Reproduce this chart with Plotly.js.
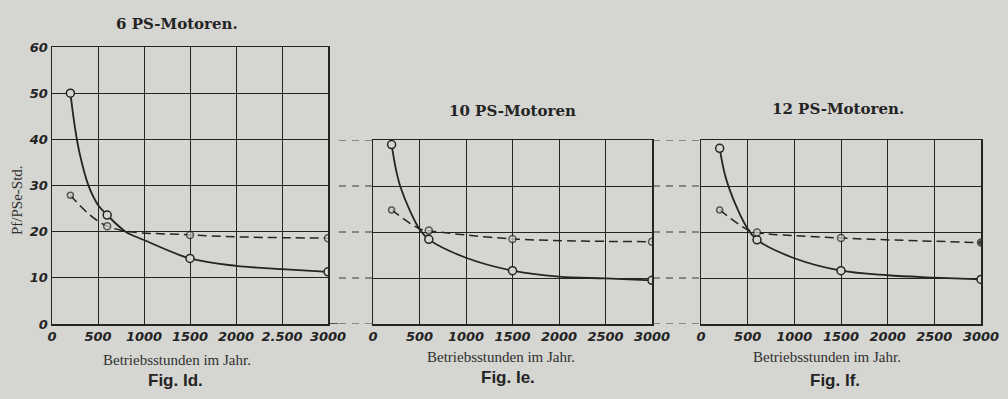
<!DOCTYPE html>
<html><head><meta charset="utf-8">
<script src="https://cdn.plot.ly/plotly-3.0.1.min.js"></script>
<style>html,body{margin:0;padding:0;background:#d5d5d1;}#chart{width:1008px;height:399px;}</style>
</head><body><div id="chart"></div>
<script>
// ---- texts ----
const panelTitles = ["6 PS-Motoren.", "10 PS-Motoren", "12 PS-Motoren."];
const figLabels = ["Fig. Id.", "Fig. Ie.", "Fig. If."];
const xTitle = "Betriebsstunden im Jahr.";
const yTitle = "Pf/PSe-Std.";

// ---- ticks ----
const hourTicks = [0, 500, 1000, 1500, 2000, 2500, 3000];
const hourTickText6 = ["0", "500", "1000", "1500", "2000", "2.500", "3000"];
const hourTickText = ["0", "500", "1000", "1500", "2000", "2500", "3000"];
const costTicks6 = [0, 10, 20, 30, 40, 50, 60];
const costTickText6 = ["0", "10", "20", "30", "40", "50", "60"];
const costTicks = [0, 10, 20, 30, 40];

// ---- marked points (circles) ----
const hours = [200, 600, 1500, 3000];
const solid6 = [50, 23.6, 14.2, 11.3];
const dashed6 = [27.9, 21.2, 19.3, 18.6];
const solid10 = [39, 18.4, 11.6, 9.5];
const dashed10 = [24.8, 20.3, 18.5, 17.9];
const solid12 = [38.2, 18.3, 11.6, 9.7];
const dashed12 = [24.8, 19.9, 18.7, 17.7];

// ---- values ----
const curveHours6 = [200, 250, 300, 400, 500, 600, 800, 1000, 1500, 2000, 2500, 3000];
const curve6 = [50, 42.5, 37, 29.8, 25.8, 23.6, 20, 18.2, 14.2, 12.6, 11.9, 11.3];
const curveHours10 = [200, 250, 300, 400, 500, 600, 1000, 1500, 2000, 2500, 3000];
const curve10 = [39, 33.3, 29.5, 24.5, 20.6, 18.4, 14.4, 11.6, 10.3, 9.9, 9.5];
const curveHours12 = [200, 250, 300, 400, 500, 600, 1000, 1500, 2000, 2500, 3000];
const curve12 = [38.2, 33.0, 29.6, 24.6, 20.7, 18.3, 14.3, 11.6, 10.6, 10.1, 9.7];
const dashHours6 = [200, 600, 1500, 3000];
const dashCurve6 = [27.9, 21.2, 19.3, 18.6];
const dashHours10 = [200, 500, 600, 1500, 3000];
const dashCurve10 = [24.8, 20.7, 20.3, 18.5, 17.9];
const dashHours12 = [200, 490, 600, 1500, 3000];
const dashCurve12 = [24.8, 20.6, 19.9, 18.7, 17.7];

const W = 1008, H = 399;
const INK = '#242424';
const PAPER = '#d5d5d1';
const px = v => v / W;
const py = v => 1 - v / H;

function lineTrace(x, y, xa, ya, dash, width) {
  return {x, y, xaxis: xa, yaxis: ya, type: 'scatter', mode: 'lines',
    line: {color: INK, width, dash, shape: 'spline', smoothing: 1},
    hoverinfo: 'skip', showlegend: false};
}
function markTrace(x, y, xa, ya, size, fills) {
  return {x, y, xaxis: xa, yaxis: ya, type: 'scatter', mode: 'markers',
    marker: {symbol: 'circle', size, color: fills || PAPER, line: {color: INK, width: 1.5}},
    hoverinfo: 'skip', showlegend: false};
}

const DASH = '9px,5px';
const traces = [
  lineTrace(curveHours6, curve6, 'x', 'y', 'solid', 1.8),
  lineTrace(dashHours6, dashCurve6, 'x', 'y', DASH, 1.5),
  markTrace(hours, solid6, 'x', 'y', 8),
  markTrace(hours, dashed6, 'x', 'y', [6, 7, 7, 7]),
  lineTrace(curveHours10, curve10, 'x2', 'y2', 'solid', 1.8),
  lineTrace(dashHours10, dashCurve10, 'x2', 'y2', DASH, 1.5),
  markTrace(hours, solid10, 'x2', 'y2', 8),
  markTrace(hours, dashed10, 'x2', 'y2', [6, 7, 7, 7]),
  lineTrace(curveHours12, curve12, 'x3', 'y3', 'solid', 1.8),
  lineTrace(dashHours12, dashCurve12, 'x3', 'y3', DASH, 1.5),
  markTrace(hours, solid12, 'x3', 'y3', 8),
  markTrace(hours, dashed12, 'x3', 'y3', [6, 7, 7, 7], [PAPER, PAPER, PAPER, INK])
];

const tickFont = {family: 'DejaVu Sans', size: 13, style: 'italic', weight: 'bold', color: INK};
function xAx(d0, d1, anchor, ticktext) {
  return {domain: [px(d0), px(d1)], anchor, range: [0, 3000], tickmode: 'array',
    tickvals: hourTicks, ticktext, showgrid: true, gridcolor: INK, gridwidth: 1,
    showline: true, linecolor: INK, linewidth: 1.5, mirror: true, zeroline: false,
    ticks: '', tickfont: tickFont, fixedrange: true};
}
function yAx(top, max, anchor, tickvals, ticktext, show) {
  return {domain: [py(324), py(top)], anchor, range: [0, max], tickmode: 'array',
    tickvals, ticktext, showticklabels: show, showgrid: true, gridcolor: INK, gridwidth: 1,
    showline: true, linecolor: INK, linewidth: 1.5, mirror: true, zeroline: false,
    ticks: '', tickfont: tickFont, fixedrange: true};
}

const shapes = [];
costTicks.forEach(v => {
  [[339, 373], [653, 700]].forEach(([a, b]) => {
    shapes.push({type: 'line', xref: 'paper', yref: 'y2', x0: px(a), x1: px(b), y0: v, y1: v,
      line: {color: '#3a3a3a', width: 1.1, dash: '7px,6px'}, layer: 'below'});
  });
});
shapes.push({type: 'line', xref: 'paper', yref: 'y', x0: px(328), x1: px(338), y0: 0, y1: 0,
  line: {color: INK, width: 1.5}});

const serif = 'DejaVu Serif';
const ann = (text, x, y, font, extra) => Object.assign({text, x: px(x), y: py(y), xref: 'paper', yref: 'paper',
  xanchor: 'center', yanchor: 'middle', showarrow: false, font}, extra || {});
const titleFont = {family: serif, size: 15, weight: 'bold', color: INK};
const xtFont = {family: 'Liberation Serif', size: 15, color: '#303030'};
const figFont = {family: 'Liberation Sans', size: 17, weight: 'bold', color: INK};
const annotations = [
  ann(panelTitles[0], 177, 24, titleFont),
  ann(panelTitles[1], 512, 111, titleFont),
  ann(panelTitles[2], 838, 109, titleFont),
  ann(xTitle, 177, 360, xtFont),
  ann(xTitle, 501, 357, xtFont),
  ann(xTitle, 827, 357, xtFont),
  ann(figLabels[0], 175, 380, figFont),
  ann(figLabels[1], 508, 377, figFont),
  ann(figLabels[2], 835, 380, figFont),
  ann(yTitle, 17, 200, {family: 'Liberation Serif', size: 15, color: '#303030'}, {textangle: -90})
];

const layout = {
  width: W, height: H, margin: {l: 0, r: 0, t: 0, b: 0},
  paper_bgcolor: PAPER, plot_bgcolor: 'rgba(0,0,0,0)', showlegend: false,
  xaxis: xAx(52, 328, 'y', hourTickText6),
  yaxis: yAx(47, 60, 'x', costTicks6, costTickText6, true),
  xaxis2: xAx(373, 652, 'y2', hourTickText),
  yaxis2: yAx(140, 40, 'x2', costTicks, costTicks.map(String), false),
  xaxis3: xAx(701, 981, 'y3', hourTickText),
  yaxis3: yAx(140, 40, 'x3', costTicks, costTicks.map(String), false),
  shapes, annotations
};

Plotly.newPlot('chart', traces, layout, {displayModeBar: false, staticPlot: true});
</script>
</body></html>
